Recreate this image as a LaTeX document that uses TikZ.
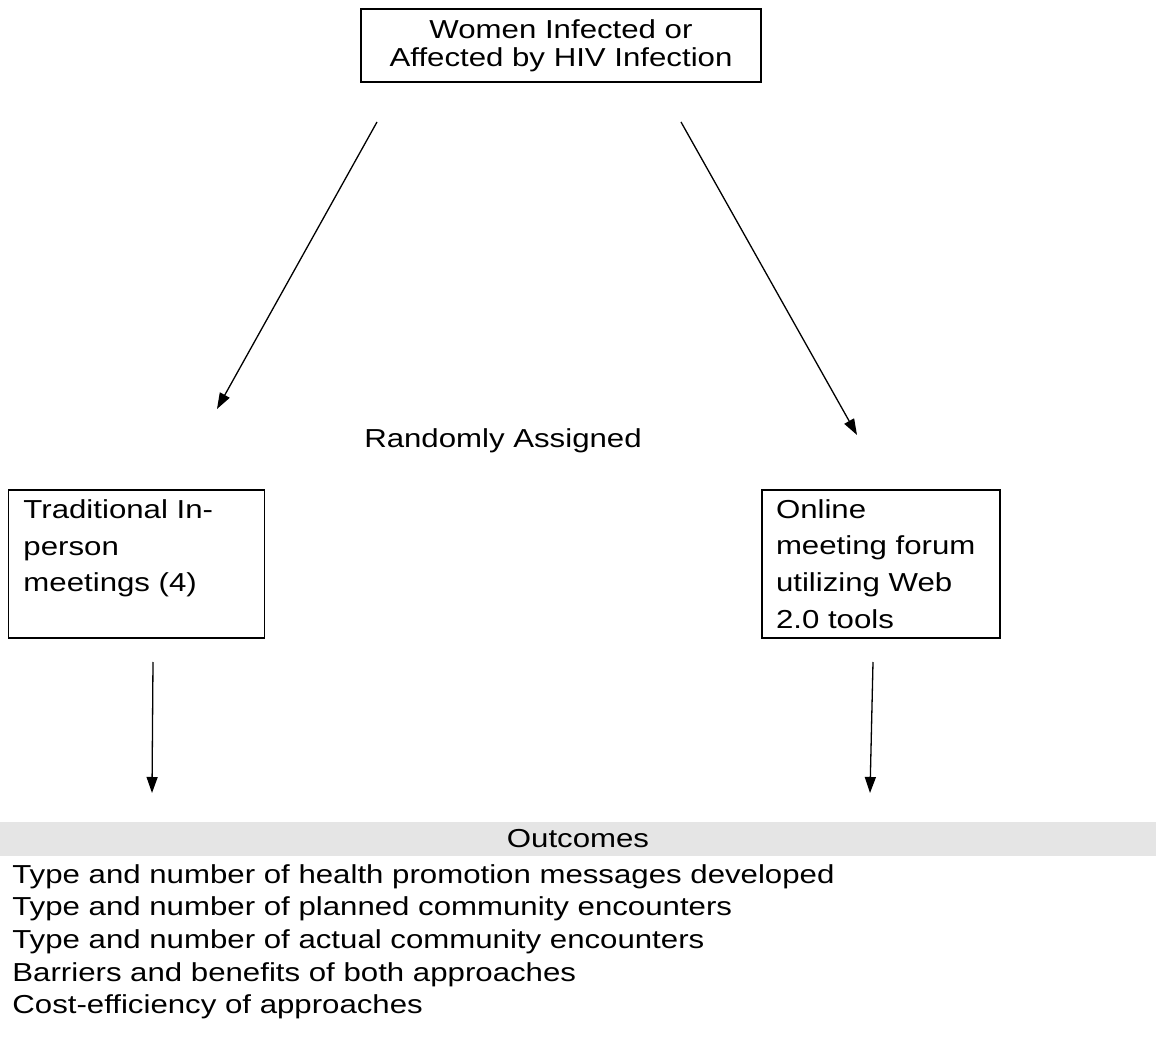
\documentclass[tikz,border=0pt]{standalone}
\usepackage{fontspec}
\setmainfont[FakeStretch=1.2]{Liberation Sans}
\usetikzlibrary{arrows.meta,positioning}
\definecolor{bargray}{RGB}{229,229,229}

\begin{document}
\begin{tikzpicture}[x=0.5pt,y=-0.5pt,
    every node/.style={font=\fontsize{13}{16.3}\selectfont},
    box/.style={draw,line width=0.75pt,align=left,inner xsep=7.5pt,minimum height=74pt,font=\fontsize{13}{18.3}\selectfont},
    arrow/.style={-{Triangle[length=8pt,width=5.5pt]},line width=0.65pt}
  ]
  \useasboundingbox (0,0) rectangle (1156,1042);
  \node[box,align=center,minimum width=200pt,minimum height=36.5pt,font=\fontsize{13}{14}\selectfont] (women) at (561,45.5) {Women Infected or\\Affected by HIV Infection};
  \node[box,text width=113pt] (trad) at (136.5,564) {Traditional In-\\person\\meetings (4)\\\mbox{}};
  \node[box,text width=105pt,inner xsep=7pt] (online) at (881,564) {Online\\meeting forum\\utilizing Web\\2.0 tools};
  \node (random) at (503,441) {Randomly Assigned};
  \node[fill=bargray,minimum width=578pt,minimum height=17pt,inner sep=0pt] (outcomes) at (578,839) {Outcomes};
  \node[anchor=north west,align=left,inner sep=0pt] (list) at (12,864) {Type and number of health promotion messages developed\\
    Type and number of planned community encounters\\
    Type and number of actual community encounters\\
    Barriers and benefits of both approaches\\
    Cost-efficiency of approaches};
  % arrow ends
  \coordinate (women-l) at (377,122);
  \coordinate (women-r) at (681,122);
  \coordinate (trad-in) at (217,409);
  \coordinate (online-in) at (857,435);
  \coordinate (trad-out) at (153,662);
  \coordinate (online-out) at (873,662);
  \coordinate (res-l) at (152,793);
  \coordinate (res-r) at (870,793);
  \draw[arrow] (women-l) -- (trad-in);
  \draw[arrow] (women-r) -- (online-in);
  \draw[arrow] (trad-out) -- (res-l);
  \draw[arrow] (online-out) -- (res-r);
\end{tikzpicture}
\end{document}
